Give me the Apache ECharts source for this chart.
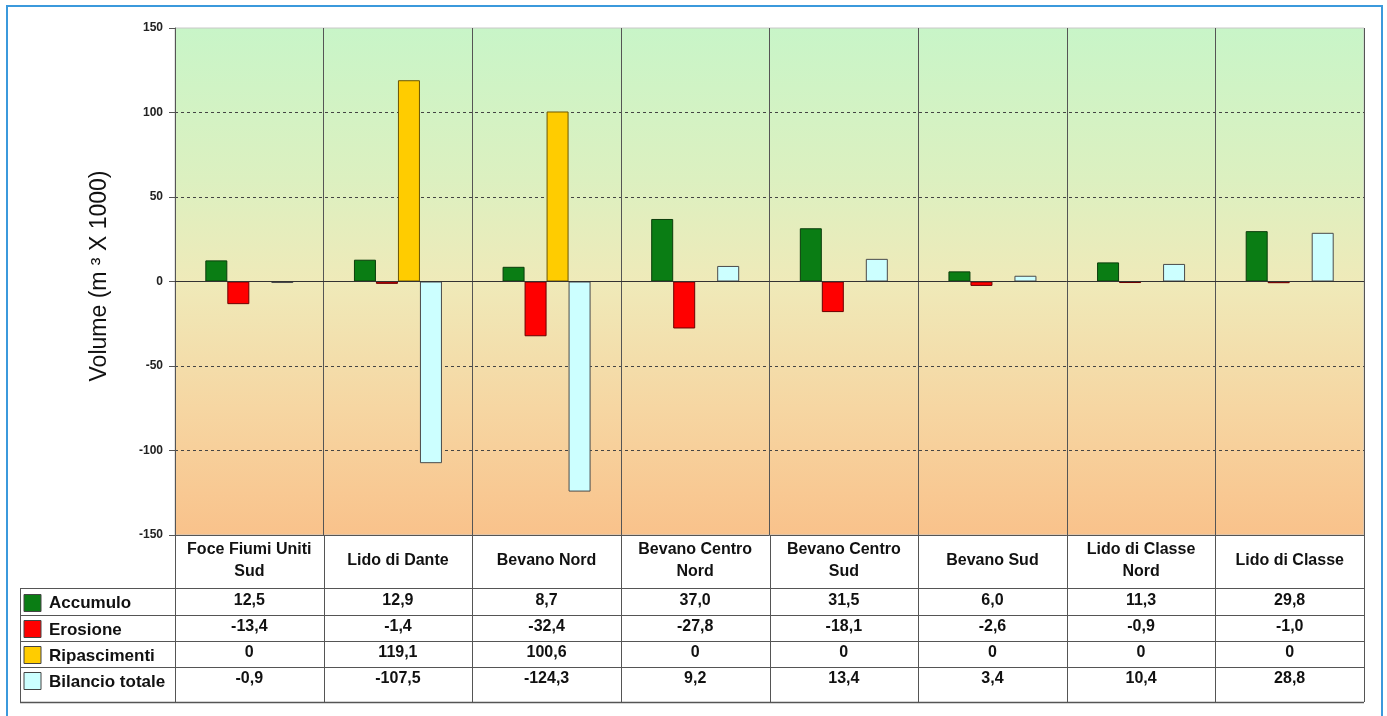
<!DOCTYPE html>
<html>
<head>
<meta charset="utf-8">
<script src="https://cdn.jsdelivr.net/npm/echarts@6/dist/echarts.min.js"></script>
<style>
html,body{margin:0;padding:0;background:#fff;}
#c{width:1387px;height:716px;}
</style>
</head>
<body>
<div id="c"></div>
<script>
// ---- data ----
var categories = ['Foce Fiumi Uniti\nSud', 'Lido di Dante', 'Bevano Nord', 'Bevano Centro\nNord', 'Bevano Centro\nSud', 'Bevano Sud', 'Lido di Classe\nNord', 'Lido di Classe'];
var seriesNames = ['Accumulo', 'Erosione', 'Ripascimenti', 'Bilancio totale'];
var accumulo = [12.5, 12.9, 8.7, 37.0, 31.5, 6.0, 11.3, 29.8];
var erosione = [-13.4, -1.4, -32.4, -27.8, -18.1, -2.6, -0.9, -1.0];
var ripascimenti = [0, 119.1, 100.6, 0, 0, 0, 0, 0];
var bilancio = [-0.9, -107.5, -124.3, 9.2, 13.4, 3.4, 10.4, 28.8];
var yMin = -150, yMax = 150, yStep = 50;

// ---- styles ----
var FONT = "'Liberation Sans', Arial, sans-serif";
var colors = ['#0a7d14', '#ff0000', '#ffcc00', '#ccffff'];
var borders = ['#0b3d0b', '#6a0000', '#6b5600', '#4a4a4a'];
var allData = [accumulo, erosione, ripascimenti, bilancio];

var chart = echarts.init(document.getElementById('c'), null, {renderer: 'canvas'});

var GL = 175, GR = 23, GT = 28, GB = 181;

var series = allData.map(function (d, i) {
  var s = {
    name: seriesNames[i],
    type: 'bar',
    data: d,
    barWidth: 22,
    barGap: '0%',
    itemStyle: {color: colors[i], borderColor: borders[i], borderWidth: 1},
    emphasis: {disabled: true},
    z: 3
  };
  if (i === 0) {
    s.markLine = {
      silent: true, symbol: 'none', label: {show: false},
      lineStyle: {color: '#333', width: 1, type: 'solid'},
      data: [{yAxis: 0}],
      animation: false
    };
  }
  return s;
});

chart.setOption({
  animation: false,
  backgroundColor: '#ffffff',
  textStyle: {fontFamily: FONT},
  grid: {
    left: GL, right: GR, top: GT, bottom: GB,
    show: true,
    borderColor: '#c8c8c8', borderWidth: 1,
    backgroundColor: new echarts.graphic.LinearGradient(0, 0, 0, 1, [
      {offset: 0, color: '#c8f5c8'},
      {offset: 0.3, color: '#dcf0c0'},
      {offset: 0.5, color: '#efeab9'},
      {offset: 0.75, color: '#f6d6a2'},
      {offset: 1, color: '#f9c28b'}
    ])
  },
  xAxis: {
    type: 'category',
    data: categories,
    boundaryGap: true,
    axisLine: {onZero: false, lineStyle: {color: '#555', width: 1}},
    axisTick: {show: false},
    splitLine: {show: true, lineStyle: {color: '#555', width: 1}},
    axisLabel: {
      interval: 0, margin: 26, verticalAlign: 'middle', align: 'center',
      fontFamily: FONT, fontWeight: 'bold', fontSize: 16, color: '#111', lineHeight: 22
    }
  },
  yAxis: {
    type: 'value',
    min: yMin, max: yMax, interval: yStep,
    name: 'Volume (m ³ X 1000)',
    nameLocation: 'middle',
    nameGap: 64,
    nameTextStyle: {fontFamily: FONT, fontSize: 23, color: '#111', padding: [0, 0, 0, 11]},
    axisLine: {show: true, lineStyle: {color: '#555'}},
    axisTick: {show: true, length: 6, lineStyle: {color: '#555'}},
    axisLabel: {margin: 12, fontFamily: FONT, fontWeight: 'bold', fontSize: 12, color: '#222'},
    splitLine: {show: true, showMinLine: false, showMaxLine: false, lineStyle: {color: '#444', width: 1, type: [3, 3]}}
  },
  series: series
});

// ---- data table (drawn with graphic elements positioned via the axis) ----
function fmt(v) {
  if (v === 0) return '0';
  return v.toFixed(1).replace('.', ',');
}
var xLeft = chart.convertToPixel({xAxisIndex: 0}, 0);
var xNext = chart.convertToPixel({xAxisIndex: 0}, 1);
var cw = xNext - xLeft;
var plotLeft = xLeft - cw / 2;
var plotRight = plotLeft + cw * categories.length;
var yBottom = chart.convertToPixel({yAxisIndex: 0}, yMin);

var rowLines = [588, 615, 641, 667, 702];
var tableLeft = 20;
var lineColor = '#555';
var g = [];

// vertical lines through header and table
for (var i = 0; i <= categories.length; i++) {
  var x = Math.round(plotLeft + i * cw) + 0.5;
  g.push({type: 'line', silent: true, z: 10, shape: {x1: x, y1: yBottom, x2: x, y2: rowLines[4]}, style: {stroke: lineColor, lineWidth: 1}});
}
// left border of table
g.push({type: 'line', silent: true, z: 10, shape: {x1: tableLeft + 0.5, y1: rowLines[0], x2: tableLeft + 0.5, y2: rowLines[4]}, style: {stroke: lineColor, lineWidth: 1}});
// horizontal lines
rowLines.forEach(function (y, k) {
  g.push({type: 'line', silent: true, z: 10, shape: {x1: tableLeft, y1: y + 0.5, x2: plotRight, y2: y + 0.5}, style: {stroke: lineColor, lineWidth: k === 4 ? 1.5 : 1}});
});

// rows
for (var r = 0; r < 4; r++) {
  var yc = (rowLines[r] + rowLines[r + 1]) / 2;
  if (r === 3) yc = rowLines[r] + 13;
  // legend key
  g.push({type: 'rect', silent: true, z: 11, shape: {x: 24, y: Math.round(yc - 8) + 0.5, width: 17, height: 17}, style: {fill: colors[r], stroke: '#444', lineWidth: 1}});
  g.push({type: 'text', silent: true, z: 11, x: 49, y: yc + 2, style: {text: seriesNames[r], font: 'bold 17px ' + FONT, fill: '#111', verticalAlign: 'middle', align: 'left'}});
  for (var c = 0; c < categories.length; c++) {
    var cx = chart.convertToPixel({xAxisIndex: 0}, c);
    g.push({type: 'text', silent: true, z: 11, x: cx, y: yc - 1, style: {text: fmt(allData[r][c]), font: 'bold 16px ' + FONT, fill: '#111', align: 'center', verticalAlign: 'middle'}});
  }
}

// blue outer frame
g.push({type: 'rect', silent: true, z: 20, shape: {x: 7, y: 6, width: 1375, height: 730}, style: {fill: 'none', stroke: '#3b99dc', lineWidth: 2}});

chart.setOption({graphic: g});
</script>
</body>
</html>
